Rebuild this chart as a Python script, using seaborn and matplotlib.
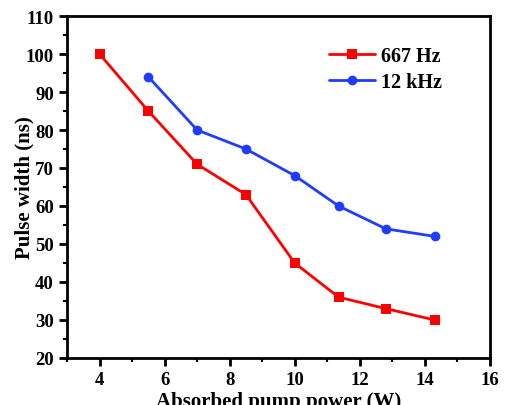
import numpy as np
import pandas as pd
import matplotlib
matplotlib.use("Agg")
import matplotlib.pyplot as plt
import seaborn as sns
from matplotlib.ticker import MultipleLocator

# data
power_667 = [4.0, 5.5, 7.0, 8.5, 10.0, 11.35, 12.8, 14.3]
width_667 = [100, 85, 71, 63, 45, 36, 33, 30]
power_12k = [5.5, 7.0, 8.5, 10.0, 11.35, 12.8, 14.3]
width_12k = [94, 80, 75, 68, 60, 54, 52]
series_names = ["667 Hz", "12 kHz"]

df = pd.concat([
    pd.DataFrame({"power": power_667, "width": width_667, "rep": series_names[0]}),
    pd.DataFrame({"power": power_12k, "width": width_12k, "rep": series_names[1]}),
], ignore_index=True)

sns.set_theme(style="ticks")
plt.rcParams['font.family'] = ['Liberation Serif', 'DejaVu Serif']
plt.rcParams['font.weight'] = 'bold'
plt.rcParams['axes.labelweight'] = 'bold'
plt.rcParams['text.color'] = 'black'
plt.rcParams['axes.labelcolor'] = 'black'
plt.rcParams['xtick.color'] = 'black'
plt.rcParams['ytick.color'] = 'black'

fig = plt.figure(figsize=(5.05, 4.06), dpi=100)
ax = fig.add_axes([0.1327, 0.1158, 0.8373, 0.8423])

palette = {"667 Hz": "#ff0000", "12 kHz": "#1f3cff"}
markers = {"667 Hz": "s", "12 kHz": "o"}
sns.lineplot(data=df, x="power", y="width", hue="rep", style="rep",
             palette=palette, markers=markers, dashes=False,
             linewidth=2.0, markersize=7, markeredgewidth=0, ax=ax)

ax.set_xlim(3, 16)
ax.set_ylim(20, 110)
ax.xaxis.set_major_locator(MultipleLocator(2))
ax.xaxis.set_minor_locator(MultipleLocator(1))
ax.yaxis.set_major_locator(MultipleLocator(10))
ax.yaxis.set_minor_locator(MultipleLocator(5))

for s in ax.spines.values():
    s.set_visible(True)
    s.set_linewidth(2.0)
    s.set_color("black")

ax.tick_params(which="major", direction="out", length=6, width=2, labelsize=13.5, colors="black")
ax.tick_params(which="minor", direction="out", length=3, width=1.5, colors="black")
ax.tick_params(top=False, right=False, which="both")
for lbl in ax.get_xticklabels() + ax.get_yticklabels():
    lbl.set_fontweight("bold")

ax.set_xlabel("Absorbed pump power (W)", fontsize=15, fontweight="bold", labelpad=2)
ax.set_ylabel("Pulse width (ns)", fontsize=15, fontweight="bold", labelpad=-6)

leg = ax.legend(loc="upper right", bbox_to_anchor=(0.93, 0.965), frameon=False,
                fontsize=14.5, handlelength=2.3, handletextpad=0.3, labelspacing=0.3)
for t in leg.get_texts():
    t.set_fontweight("bold")
    t.set_color("black")

fig.savefig("out.png", dpi=100)
